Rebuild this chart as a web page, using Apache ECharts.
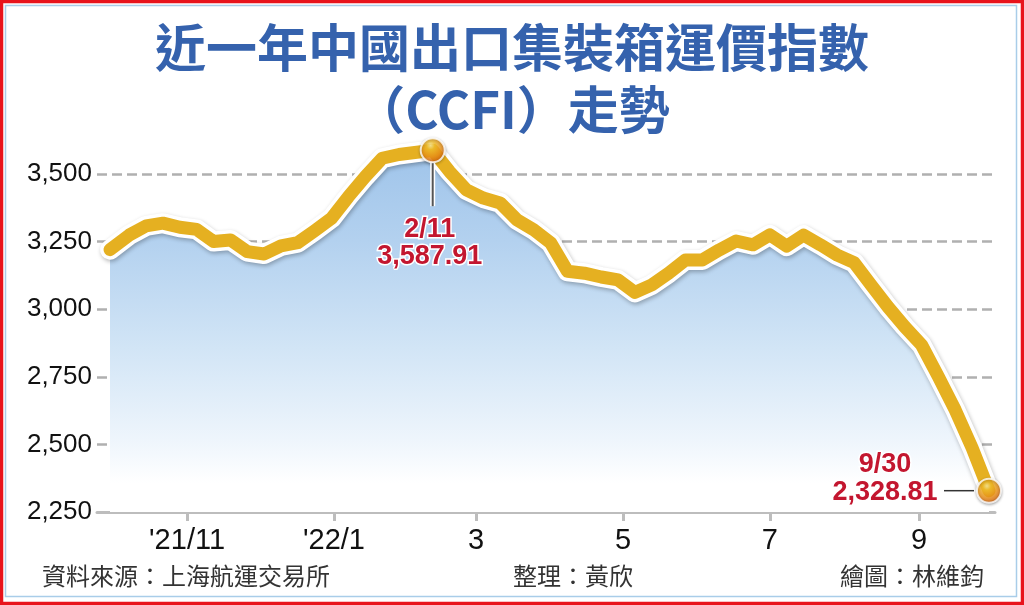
<!DOCTYPE html>
<html><head><meta charset="utf-8">
<script src="https://cdn.jsdelivr.net/npm/echarts@6/dist/echarts.min.js"></script>
<style>html,body{margin:0;padding:0;background:#fff}#c{width:1024px;height:605px}</style>
</head><body><div id="c"></div>
<script>
// ---- data ----
const weekDates = [
 '2021-09-30','2021-10-08','2021-10-15','2021-10-22','2021-10-29','2021-11-05','2021-11-12','2021-11-19','2021-11-26',
 '2021-12-03','2021-12-10','2021-12-17','2021-12-24','2021-12-31','2022-01-07','2022-01-14','2022-01-21','2022-01-28',
 '2022-02-11','2022-02-18','2022-02-25','2022-03-04','2022-03-11','2022-03-18','2022-03-25','2022-04-01','2022-04-08',
 '2022-04-15','2022-04-22','2022-04-29','2022-05-06','2022-05-13','2022-05-20','2022-05-27','2022-06-03','2022-06-10',
 '2022-06-17','2022-06-24','2022-07-01','2022-07-08','2022-07-15','2022-07-22','2022-07-29','2022-08-05','2022-08-12',
 '2022-08-19','2022-08-26','2022-09-02','2022-09-09','2022-09-16','2022-09-23','2022-09-30'
];
const ccfiValues = [
 3220,3274,3308,3318,3303,3295,3250,3256,3213,
 3204,3234,3246,3290,3336,3416,3490,3558,3572,
 3587.91,3509,3441,3411,3393,3330,3293,3245,3140,
 3133,3119,3108,3062,3090,3133,3182,3182,3219,
 3252,3238,3275,3233,3274,3238,3200,3172,3090,
 3009,2935,2868,2750,2627,2487,2328.81
];
const yTickValues = [2250,2500,2750,3000,3250,3500];
const xTickDates = ['2021-11-01','2022-01-01','2022-03-01','2022-05-01','2022-07-01','2022-09-01'];
const xTickLabels = ["'21/11","'22/1","3","5","7","9"];
const titleLines = ['近一年中國出口集裝箱運價指數','（CCFI）走勢'];
const footerSource = '資料來源：上海航運交易所';
const footerEditor = '整理：黃欣';
const footerArtist = '繪圖：林維鈞';

// ---- helpers ----
// dates are expressed as day numbers (days since 1970-01-01, UTC) on a value axis
function dn(s){ const p = s.split('-').map(Number); return Date.UTC(p[0], p[1]-1, p[2]) / 86400000; }
function md(s){ const p = s.split('-').map(Number); return p[1] + '/' + p[2]; }
function fmt2(v){ return v.toLocaleString('en-US',{minimumFractionDigits:2, maximumFractionDigits:2}); }

const seriesData = weekDates.map((d,i)=>[dn(d), ccfiValues[i]]);
let peakIdx = 0;
ccfiValues.forEach((v,i)=>{ if (v > ccfiValues[peakIdx]) peakIdx = i; });
const lastIdx = ccfiValues.length - 1;
const xTickDays = xTickDates.map(dn);

const NUM_FONT = "'Liberation Sans Narrow','Arial Narrow','Liberation Sans',Arial,sans-serif";

const ball = {
  type:'radial', x:0.42, y:0.32, r:0.72,
  colorStops:[{offset:0,color:'#fff2a6'},{offset:0.22,color:'#fbc52c'},{offset:0.62,color:'#f29418'},{offset:1,color:'#d2560a'}]
};

const chart = echarts.init(document.getElementById('c'), null, {renderer:'canvas'});
chart.setOption({
  animation:false,
  backgroundColor:'#ffffff',
  grid:{left:97, right:29, top:133.4, bottom:93, containLabel:false},
  xAxis:{
    type:'value',
    min: dn(weekDates[0]) - 5.4,
    max: dn(weekDates[lastIdx]) + 2.5,
    axisLine:{show:true, lineStyle:{color:'#bdbdbd', width:3}},
    axisTick:{show:true, customValues: xTickDays, length:9, lineStyle:{color:'#bdbdbd', width:3}},
    axisLabel:{show:true, customValues: xTickDays, margin:14, color:'#111',
      fontFamily: NUM_FONT, fontSize:29,
      formatter:function(v){ const i = xTickDays.indexOf(v); return i>=0 ? xTickLabels[i] : ''; }},
    splitLine:{show:false}
  },
  yAxis:{
    type:'value', min:2250, max:3650,
    axisLine:{show:false}, axisTick:{show:false, customValues: yTickValues},
    axisLabel:{customValues: yTickValues, margin:5, color:'#111', fontFamily: NUM_FONT, fontSize:26,
      formatter:function(v){ return v.toLocaleString('en-US'); }},
    splitLine:{show:true, lineStyle:{color:'#b0b0b0', width:2.5, type:[10,5]}}
  },
  series:[
    {type:'line', data:seriesData, symbol:'none', z:2, silent:true, clip:false,
     lineStyle:{color:'#ffffff', width:20, cap:'round', join:'round',
       shadowColor:'rgba(0,0,0,0.28)', shadowBlur:4, shadowOffsetX:1, shadowOffsetY:2},
     areaStyle:{origin:'start', opacity:1, color:{type:'linear', x:0,y:0,x2:0,y2:1, colorStops:[
       {offset:0,color:'#9fc4ea'},{offset:0.25,color:'#b3d1ef'},{offset:0.55,color:'#d2e5f6'},
       {offset:0.8,color:'#eef5fc'},{offset:0.92,color:'#ffffff'},{offset:1,color:'#ffffff'}]}}},
    {type:'line', data:seriesData, symbol:'none', z:3, silent:true, clip:false,
     lineStyle:{color:'#e5b021', width:13, cap:'round', join:'round'}},
    {type:'scatter', data:[seriesData[peakIdx], seriesData[lastIdx]], symbolSize:24, z:6, silent:true, clip:false,
     itemStyle:{color:ball, borderColor:'#ffffff', borderWidth:2, shadowColor:'rgba(0,0,0,0.3)', shadowBlur:3, shadowOffsetY:1}}
  ]
});

// ---- annotations positioned from data through the chart's scales ----
const pk = chart.convertToPixel({seriesIndex:1}, seriesData[peakIdx]);
const en = chart.convertToPixel({seriesIndex:1}, seriesData[lastIdx]);
const RED = '#c3162f';
const CJK = "'Noto Sans CJK TC','Noto Sans CJK SC',sans-serif";
chart.setOption({
  graphic:[
    {type:'rect', shape:{x:1.5, y:1.5, width:1021, height:602}, style:{fill:null, stroke:'#e8141c', lineWidth:3.5}, z:100, silent:true},
    {type:'rect', shape:{x:5.5, y:5.5, width:1011, height:591}, style:{fill:null, stroke:'#a9cde9', lineWidth:1.5}, z:100, silent:true},
    {type:'text', x:512, y:48, style:{text:titleLines[0], align:'center', verticalAlign:'middle',
      font:"bold 51px " + CJK, fill:'#3562ad'}, z:50},
    {type:'text', x:512, y:110, style:{text:titleLines[1], align:'center', verticalAlign:'middle',
      font:"bold 51px " + CJK, fill:'#3562ad'}, z:50},
    {type:'line', shape:{x1:pk[0], y1:pk[1]+13, x2:pk[0], y2:pk[1]+56}, style:{stroke:'#ffffff', lineWidth:5}, z:7},
    {type:'line', shape:{x1:pk[0], y1:pk[1]+13, x2:pk[0], y2:pk[1]+56}, style:{stroke:'#555555', lineWidth:2}, z:8},
    {type:'text', x:pk[0]-3, y:pk[1]+66, style:{text: md(weekDates[peakIdx]) + '\n' + fmt2(ccfiValues[peakIdx]),
      align:'center', verticalAlign:'top', lineHeight:27,
      font:"bold 27px 'Liberation Sans',Arial,sans-serif", fill:RED, stroke:'#ffffff', lineWidth:3}, z:9},
    {type:'line', shape:{x1:en[0]-45, y1:en[1], x2:en[0]-15, y2:en[1]}, style:{stroke:'#333333', lineWidth:1.5}, z:8},
    {type:'text', x:en[0]-104, y:en[1]-40, style:{text: md(weekDates[lastIdx]) + '\n' + fmt2(ccfiValues[lastIdx]),
      align:'center', verticalAlign:'top', lineHeight:28,
      font:"bold 27px 'Liberation Sans',Arial,sans-serif", fill:RED, stroke:'#ffffff', lineWidth:3}, z:9},
    {type:'text', x:42, y:576, style:{text:footerSource, align:'left', verticalAlign:'middle',
      font:"24px " + CJK, fill:'#333333'}, z:50},
    {type:'text', x:513, y:576, style:{text:footerEditor, align:'left', verticalAlign:'middle',
      font:"24px " + CJK, fill:'#333333'}, z:50},
    {type:'text', x:984, y:576, style:{text:footerArtist, align:'right', verticalAlign:'middle',
      font:"24px " + CJK, fill:'#333333'}, z:50}
  ]
});
</script></body></html>
